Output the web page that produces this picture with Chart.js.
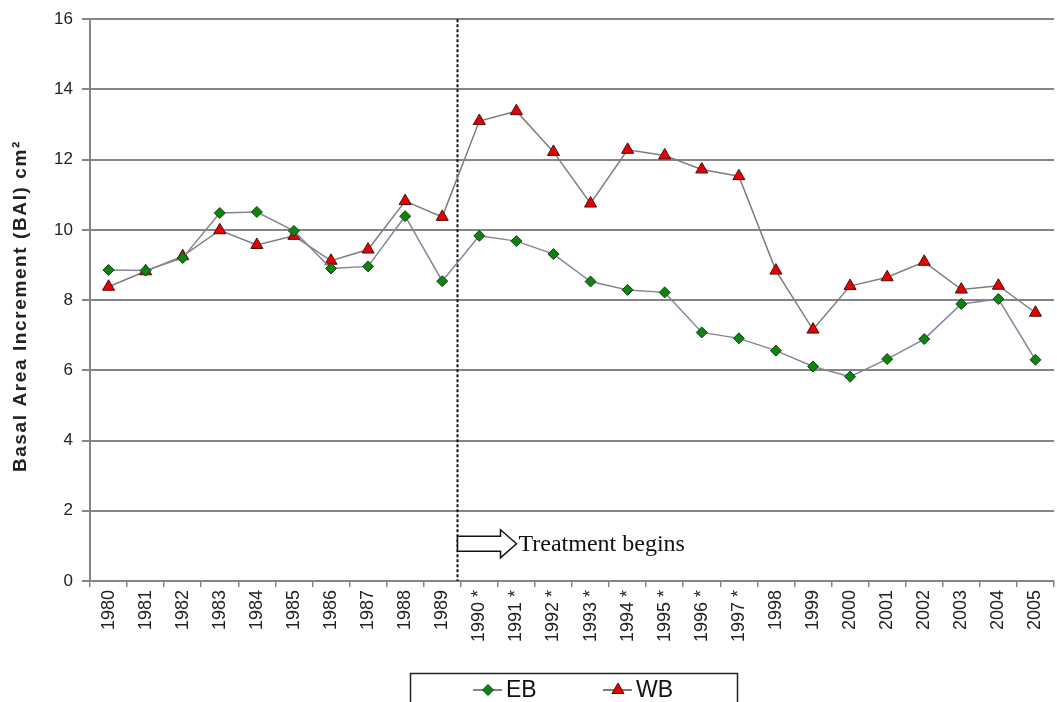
<!DOCTYPE html>
<html>
<head>
<meta charset="utf-8">
<script src="https://cdn.jsdelivr.net/npm/chart.js@4/dist/chart.umd.min.js"></script>
<style>
  body { margin: 0; overflow: hidden; background: #fff; }
  #wrap { width: 1062px; height: 702px; }
</style>
</head>
<body>
<div id="wrap"><canvas id="myChart" width="1062" height="702"></canvas></div>
<script>
const years = [
    '1980', '1981', '1982', '1983', '1984', '1985', '1986', '1987', '1988', '1989',
    '1990 *', '1991 *', '1992 *', '1993 *', '1994 *', '1995 *', '1996 *', '1997 *',
    '1998', '1999', '2000', '2001', '2002', '2003', '2004', '2005'
];

const ebValues = [
    8.86, 8.84, 9.2, 10.48, 10.51, 9.97, 8.9, 8.96, 10.39, 8.54,
    9.83, 9.68, 9.31, 8.53, 8.29, 8.22, 7.08, 6.91,
    6.56, 6.11, 5.82, 6.32, 6.89, 7.89, 8.03, 6.3
];

const wbValues = [
    8.38, 8.82, 9.25, 9.99, 9.57, 9.83, 9.12, 9.44, 10.82, 10.37,
    13.1, 13.38, 12.22, 10.75, 12.28, 12.12, 11.72, 11.53,
    8.84, 7.16, 8.4, 8.65, 9.09, 8.3, 8.41, 7.64
];

const yTicks = [0, 2, 4, 6, 8, 10, 12, 14, 16];
const treatmentStart = 9.4; // between 1989 and 1990
const yTitle = 'Basal Area Increment (BAI) cm\u00b2';

const gridGrey = '#858585';
const sans = '"Liberation Sans", Arial, sans-serif';

const extras = {
    id: 'extras',
    beforeDatasetsDraw(chart) {
        const ctx = chart.ctx;
        const area = chart.chartArea;
        const x = Math.round(chart.scales.x.getPixelForValue(treatmentStart)) + 0.5;
        ctx.save();
        ctx.strokeStyle = '#111';
        ctx.lineWidth = 2;
        ctx.setLineDash([3, 2]);
        ctx.beginPath();
        ctx.moveTo(x, area.top);
        ctx.lineTo(x, area.bottom);
        ctx.stroke();
        ctx.restore();

        // outline arrow + text
        const y = chart.scales.y.getPixelForValue(1.06);
        ctx.save();
        ctx.strokeStyle = '#111';
        ctx.fillStyle = '#fff';
        ctx.lineWidth = 1.5;
        ctx.beginPath();
        ctx.moveTo(x, y - 7.5);
        ctx.lineTo(x + 43, y - 7.5);
        ctx.lineTo(x + 43, y - 14);
        ctx.lineTo(x + 59, y);
        ctx.lineTo(x + 43, y + 14);
        ctx.lineTo(x + 43, y + 7.5);
        ctx.lineTo(x, y + 7.5);
        ctx.closePath();
        ctx.fill();
        ctx.stroke();
        ctx.fillStyle = '#111';
        ctx.font = '24px "Liberation Serif", "Times New Roman", serif';
        ctx.textBaseline = 'middle';
        ctx.fillText('Treatment begins', x + 61, y + 1);
        ctx.restore();
    },
    afterDraw(chart) {
        const ctx = chart.ctx;
        const area = chart.chartArea;
        // y axis title
        ctx.save();
        ctx.translate(21, (area.top + area.bottom) / 2 + 6);
        ctx.rotate(-Math.PI / 2);
        ctx.font = 'bold 19px ' + sans;
        ctx.letterSpacing = '1.6px';
        ctx.fillStyle = '#222';
        ctx.textAlign = 'center';
        ctx.textBaseline = 'middle';
        ctx.fillText(yTitle, 0, 0);
        ctx.restore();

        // legend box
        ctx.save();
        ctx.strokeStyle = '#222';
        ctx.lineWidth = 1.5;
        ctx.strokeRect(410.5, 673.5, 327, 40);
        const items = [
            { label: 'EB', ds: chart.data.datasets[0], x: 473 },
            { label: 'WB', ds: chart.data.datasets[1], x: 603 }
        ];
        const ly = 690;
        for (const it of items) {
            ctx.strokeStyle = it.ds.borderColor;
            ctx.lineWidth = 2;
            ctx.beginPath();
            ctx.moveTo(it.x, ly);
            ctx.lineTo(it.x + 29, ly);
            ctx.stroke();
            ctx.fillStyle = it.ds.pointBackgroundColor;
            ctx.strokeStyle = it.ds.pointBorderColor;
            ctx.lineWidth = 1;
            Chart.helpers.drawPoint(ctx, {
                pointStyle: it.ds.pointStyle,
                radius: it.ds.pointRadius,
                borderWidth: 1,
                rotation: 0
            }, it.x + 15, ly);
            ctx.fillStyle = '#111';
            ctx.font = '23px ' + sans;
            ctx.textBaseline = 'middle';
            ctx.fillText(it.label, it.x + 33, ly + 1);
        }
        ctx.restore();
    }
};

const myChart = new Chart(document.getElementById('myChart'), {
    type: 'line',
    data: {
        labels: years,
        datasets: [
            {
                label: 'EB',
                data: ebValues,
                borderColor: '#84849a',
                borderWidth: 1.5,
                tension: 0,
                pointStyle: 'rectRot',
                pointRadius: 5.5,
                pointBackgroundColor: '#0b850b',
                pointBorderColor: '#1d3b1d',
                pointBorderWidth: 1
            },
            {
                label: 'WB',
                data: wbValues,
                borderColor: '#7e7e7e',
                borderWidth: 1.5,
                tension: 0,
                pointStyle: 'triangle',
                pointRadius: 7,
                pointBackgroundColor: '#e60000',
                pointBorderColor: '#4a1010',
                pointBorderWidth: 1
            }
        ]
    },
    options: {
        responsive: false,
        animation: false,
        layout: { padding: { top: 18, right: 0, bottom: 0, left: 0 } },
        plugins: {
            legend: { display: false },
            tooltip: { enabled: false }
        },
        scales: {
            x: {
                offset: true,
                afterFit(scale) { scale.height = 121; },
                grid: {
                    offset: true,
                    drawOnChartArea: false,
                    drawTicks: true,
                    tickLength: 6,
                    color: gridGrey,
                    lineWidth: 1.5
                },
                border: { display: true, color: gridGrey, width: 2 },
                ticks: {
                    minRotation: 90,
                    maxRotation: 90,
                    autoSkip: false,
                    padding: 3,
                    color: '#222',
                    font: { family: sans, size: 18 }
                }
            },
            y: {
                min: 0,
                max: 16,
                afterFit(scale) { scale.width = 90; },
                afterBuildTicks(scale) { scale.ticks = yTicks.map(v => ({ value: v })); },
                grid: {
                    color: gridGrey,
                    lineWidth: 2,
                    tickLength: 8
                },
                border: { display: true, color: gridGrey, width: 2 },
                ticks: {
                    padding: 9,
                    color: '#222',
                    font: { family: sans, size: 17 }
                }
            }
        }
    },
    plugins: [extras]
});
</script>
</body>
</html>
